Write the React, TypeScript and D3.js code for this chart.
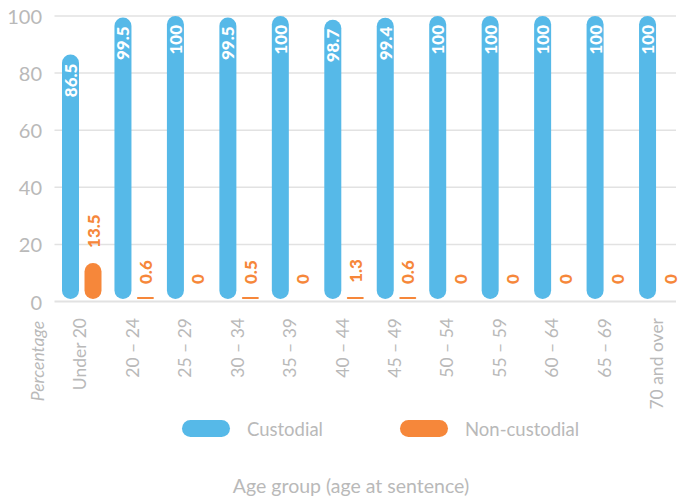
import React from "react";
import * as d3 from "d3";

const categories = ["Under 20", "20 – 24", "25 – 29", "30 – 34", "35 – 39", "40 – 44", "45 – 49", "50 – 54", "55 – 59", "60 – 64", "65 – 69", "70 and over"];
const seriesNames = ["Custodial", "Non-custodial"];
const custodial = [86.5, 99.5, 100, 99.5, 100, 98.7, 99.4, 100, 100, 100, 100, 100];
const nonCustodial = [13.5, 0.6, 0, 0.5, 0, 1.3, 0.6, 0, 0, 0, 0, 0];
const yTicks = [0, 20, 40, 60, 80, 100];

const W = 688;
const H = 499;
const BLUE = "#56b9e8";
const ORANGE = "#f6873a";
const GRAY = "#b9b9b9";
const GRID = "#e2e2e2";
const FONT = "Lato, 'Open Sans', sans-serif";

export default function App() {
  const y = d3.scaleLinear().domain([0, 100]).range([301.5, 16]);
  const x = d3.scaleBand<string>().domain(categories).range([54.5, 684]).padding(0);
  const inner = d3.scaleBand<string>().domain(seriesNames).range([4.75, x.bandwidth() - 2.7]).padding(0);
  const barW = 17;
  const y0 = y(0);
  const bottom = y0 - 2.5;
  const colors = [BLUE, ORANGE];
  const values = [custodial, nonCustodial];

  return (
    <svg width={W} height={H} style={{ position: "absolute", left: 0, top: 0 }} fontFamily={FONT}>
      {yTicks.map((t) => (
        <g key={t}>
          <line x1={54.5} x2={676} y1={y(t)} y2={y(t)} stroke={GRID} strokeWidth={t === 0 ? 2 : 1.5} />
          <text x={42} y={y(t)} textAnchor="end" dominantBaseline="central" fill={GRAY} fontSize={20}>{t}</text>
        </g>
      ))}
      {categories.map((c, i) => (
        <g key={c}>
          {seriesNames.map((s, si) => {
            const v = values[si][i];
            const cx = (x(c) as number) + (inner(s) as number) + inner.bandwidth() / 2;
            const top = Math.min(y(v), bottom - 2);
            const h = bottom - top;
            return (
              <g key={s}>
                {v > 0 && (
                  <rect x={cx - barW / 2} y={top} width={barW} height={h} rx={Math.min(barW / 2, h / 2)} ry={Math.min(barW / 2, h / 2)} fill={colors[si]} />
                )}
                {si === 0 ? (
                  <text transform={`translate(${cx},${y(v) + 9}) rotate(-90)`} textAnchor="end" dominantBaseline="central" fill="#fff" fontWeight={900} fontSize={17}>{v}</text>
                ) : (
                  <text transform={`translate(${cx},${Math.min(y(v), bottom) - 15}) rotate(-90)`} textAnchor="start" dominantBaseline="central" fill={ORANGE} fontWeight={900} fontSize={17}>{v}</text>
                )}
              </g>
            );
          })}
          <text transform={`translate(${(x(c) as number) + x.bandwidth() / 2 - 1},318) rotate(-90)`} textAnchor="end" dominantBaseline="central" fill={GRAY} fontSize={17.5}>{c}</text>
        </g>
      ))}
      <text transform="translate(37,361) rotate(-90)" textAnchor="middle" dominantBaseline="central" fill={GRAY} fontSize={17.5} fontStyle="italic">Percentage</text>
      {seriesNames.map((s, si) => {
        const lx = [182, 400][si];
        return (
          <g key={s}>
            <rect x={lx} y={420} width={48} height={17} rx={8.5} fill={colors[si]} />
            <text x={lx + 65} y={429} dominantBaseline="central" fill={GRAY} fontSize={18.5}>{s}</text>
          </g>
        );
      })}
      <text x={351} y={485} textAnchor="middle" dominantBaseline="central" fill={GRAY} fontSize={19.5}>Age group (age at sentence)</text>
    </svg>
  );
}
